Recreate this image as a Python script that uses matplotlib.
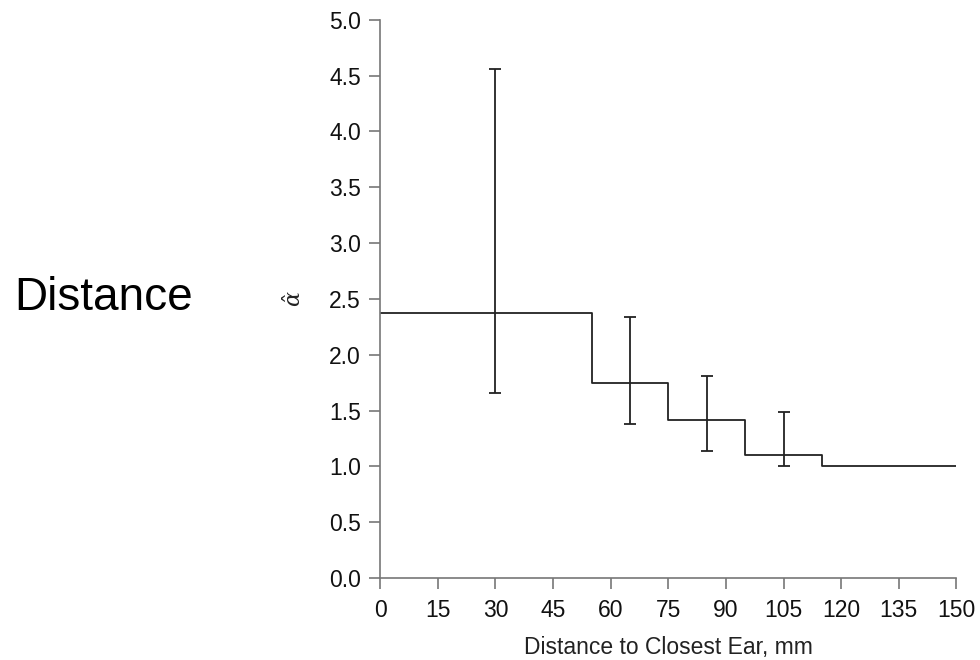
import matplotlib
matplotlib.use("Agg")
import matplotlib.pyplot as plt

plt.rcParams['font.family'] = ['Liberation Sans', 'DejaVu Sans']
plt.rcParams['mathtext.fontset'] = 'dejavuserif'

# Step segments (bin edges and estimated alpha-hat per bin)
bin_edges = [0, 55, 75, 95, 115, 150]
alpha_hat = [2.37, 1.75, 1.42, 1.10, 1.00]

# Error bars (midpoint, estimate, lower, upper)
err_x = [30, 65, 85, 105]
err_y = [2.37, 1.75, 1.42, 1.10]
err_lo = [1.66, 1.38, 1.14, 1.00]
err_hi = [4.56, 2.34, 1.81, 1.49]

x_ticks = [0, 15, 30, 45, 60, 75, 90, 105, 120, 135, 150]
y_ticks = [0.0, 0.5, 1.0, 1.5, 2.0, 2.5, 3.0, 3.5, 4.0, 4.5, 5.0]

fig = plt.figure(figsize=(9.8, 6.6), dpi=100)
ax = fig.add_axes([0.388, 0.124, 0.588, 0.846])

line_color = '#222222'
step_y = alpha_hat + [alpha_hat[-1]]
ax.step(bin_edges, step_y, where='post', color=line_color, lw=1.3)

yerr_lower = [y - lo for y, lo in zip(err_y, err_lo)]
yerr_upper = [hi - y for y, hi in zip(err_y, err_hi)]
ax.errorbar(err_x, err_y, yerr=[yerr_lower, yerr_upper], fmt='none',
            ecolor=line_color, elinewidth=1.3, capsize=4, capthick=1.3)

ax.set_xlim(0, 150)
ax.set_ylim(0, 5.0)
ax.set_xticks(x_ticks)
ax.set_yticks(y_ticks)
ax.set_xticklabels([str(t) for t in x_ticks])
ax.set_yticklabels([f"{t:.1f}" for t in y_ticks])

for s in ['top', 'right']:
    ax.spines[s].set_visible(False)
for s in ['left', 'bottom']:
    ax.spines[s].set_color('#777777')
    ax.spines[s].set_linewidth(1.2)

ax.tick_params(axis='both', direction='out', length=8, width=1.2,
               color='#777777', labelsize=16.5, labelcolor='#111111')
ax.tick_params(axis='x', pad=7)
ax.tick_params(axis='y', pad=6)

ax.set_xlabel('Distance to Closest Ear, mm', fontsize=16.5, color='#222222')
ax.xaxis.set_label_coords(0.5, -0.124)
ax.xaxis.label.set_va('center')
ax.set_ylabel(r'$\hat{\alpha}$', fontsize=16, color='#222222')
ax.yaxis.set_label_coords(-0.149, 0.5)
ax.yaxis.label.set_va('center')

fig.text(14 / 980, 1 - 298 / 660, 'Distance', fontsize=33, color='#000000',
         ha='left', va='center')

fig.savefig('out.png', dpi=100)
